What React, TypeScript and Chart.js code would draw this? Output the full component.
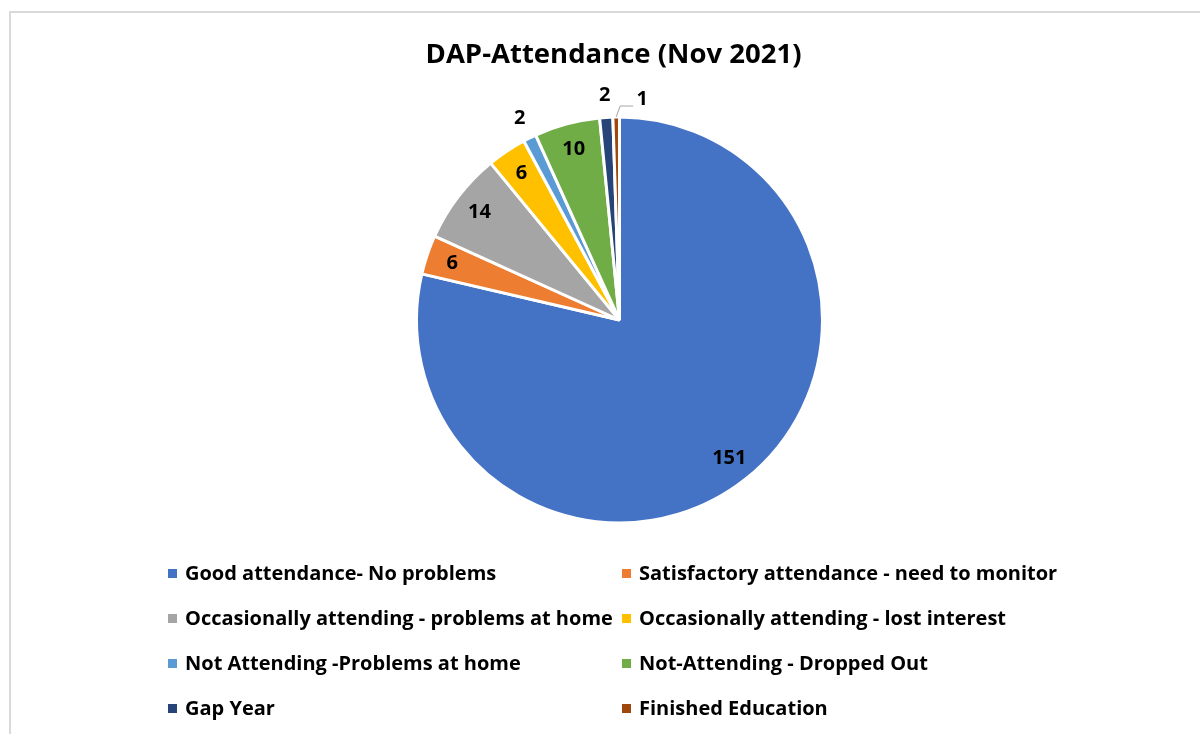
import React, { useEffect, useRef } from "react";
import { Chart, registerables } from "chart.js";

Chart.register(...registerables);

const TITLE = "DAP-Attendance (Nov 2021)";

const categories = [
  "Good attendance- No problems",
  "Satisfactory attendance - need to monitor",
  "Occasionally attending - problems at home",
  "Occasionally attending - lost interest",
  "Not Attending -Problems at home",
  "Not-Attending - Dropped Out",
  "Gap Year",
  "Finished Education",
];

const values = [151, 6, 14, 6, 2, 10, 2, 1];

const colors = [
  "#4472C4",
  "#ED7D31",
  "#A5A5A5",
  "#FFC000",
  "#5B9BD5",
  "#70AD47",
  "#264478",
  "#9E480E",
];

// where each value label sits: inside the slice, just outside it, or on a leader line
const labelPlacement = ["in", "in", "in", "in", "out", "in", "out", "callout"];

const FONT = "'Open Sans', 'DejaVu Sans', sans-serif";

const frame = {
  id: "frame",
  beforeDraw(chart: any) {
    const ctx = chart.ctx;
    ctx.save();
    ctx.fillStyle = "#ffffff";
    ctx.fillRect(0, 0, chart.width, chart.height);
    ctx.strokeStyle = "#d9d9d9";
    ctx.lineWidth = 2;
    ctx.strokeRect(10, 12, chart.width + 20, chart.height + 20);
    ctx.restore();
  },
};

const valueLabels = {
  id: "valueLabels",
  afterDatasetsDraw(chart: any) {
    const ctx = chart.ctx;
    const meta = chart.getDatasetMeta(0);
    const data = chart.data.datasets[0].data as number[];
    meta.data.forEach((arc: any, i: number) => {
      const { x, y, startAngle, endAngle, outerRadius } = arc.getProps(
        ["x", "y", "startAngle", "endAngle", "outerRadius"],
        true
      );
      const mid = (startAngle + endAngle) / 2;
      const place = labelPlacement[i];
      const text = String(data[i]);
      ctx.save();
      ctx.font = `bold 20px ${FONT}`;
      ctx.fillStyle = "#000000";
      ctx.textAlign = "center";
      ctx.textBaseline = "middle";
      if (place === "in" || place === "out") {
        const r = outerRadius * (place === "in" ? 0.87 : 1.11);
        ctx.fillText(text, x + Math.cos(mid) * r, y + Math.sin(mid) * r);
      } else {
        const r0 = outerRadius;
        const p0x = x + Math.cos(mid) * r0;
        const p0y = y + Math.sin(mid) * r0;
        const p1x = p0x + 4;
        const p1y = p0y - 11;
        const p2x = p1x + 13;
        ctx.strokeStyle = "#a6a6a6";
        ctx.lineWidth = 1;
        ctx.beginPath();
        ctx.moveTo(p0x, p0y);
        ctx.lineTo(p1x, p1y);
        ctx.lineTo(p2x, p1y);
        ctx.stroke();
        ctx.fillText(text, p2x + 9, p1y - 7);
      }
      ctx.restore();
    });
  },
};

function PieChart() {
  const ref = useRef<HTMLCanvasElement | null>(null);
  useEffect(() => {
    if (!ref.current) return;
    const cx = 619.5;
    const cy = 320;
    const half = 206;
    const chart = new Chart(ref.current, {
      type: "pie",
      data: {
        labels: categories,
        datasets: [
          {
            data: values,
            backgroundColor: colors,
            borderColor: "#ffffff",
            borderWidth: 3,
          },
        ],
      },
      options: {
        animation: false,
        responsive: false,
        maintainAspectRatio: false,
        radius: 203,
        layout: {
          padding: {
            left: cx - half,
            right: 1200 - (cx + half),
            top: cy - half,
            bottom: 734 - (cy + half),
          },
        },
        plugins: {
          legend: { display: false },
          title: { display: false },
          tooltip: { enabled: false },
        },
      },
      plugins: [frame, valueLabels],
    });
    return () => chart.destroy();
  }, []);
  return <canvas ref={ref} width={1200} height={734} style={{ position: "absolute", left: 0, top: 0 }} />;
}

export default function App() {
  const rows = [0, 1, 2, 3];
  const rowY = [573, 618, 663, 708];
  const colX = [168, 622];
  return (
    <div
      style={{
        position: "fixed",
        left: 0,
        top: 0,
        width: 1200,
        height: 734,
        background: "#fff",
        overflow: "hidden",
        fontFamily: FONT,
      }}
    >
      <PieChart />
      <div
        style={{
          position: "absolute",
          left: 313.5,
          width: 600,
          top: 53,
          transform: "translateY(-50%)",
          textAlign: "center",
          fontWeight: 700,
          fontSize: 27.5,
          color: "#000",
          lineHeight: 1,
        }}
      >
        {TITLE}
      </div>
      {rows.map((r) =>
        [0, 1].map((c) => {
          const i = r * 2 + c;
          return (
            <div
              key={i}
              style={{
                position: "absolute",
                left: colX[c],
                top: rowY[r],
                transform: "translateY(-50%)",
                display: "flex",
                alignItems: "center",
                whiteSpace: "nowrap",
                fontWeight: 700,
                fontSize: 20,
                lineHeight: 1,
                color: "#000",
              }}
            >
              <span
                style={{
                  display: "inline-block",
                  width: 9,
                  height: 9,
                  background: colors[i],
                  marginRight: 8,
                }}
              />
              <span>{categories[i]}</span>
            </div>
          );
        })
      )}
    </div>
  );
}
